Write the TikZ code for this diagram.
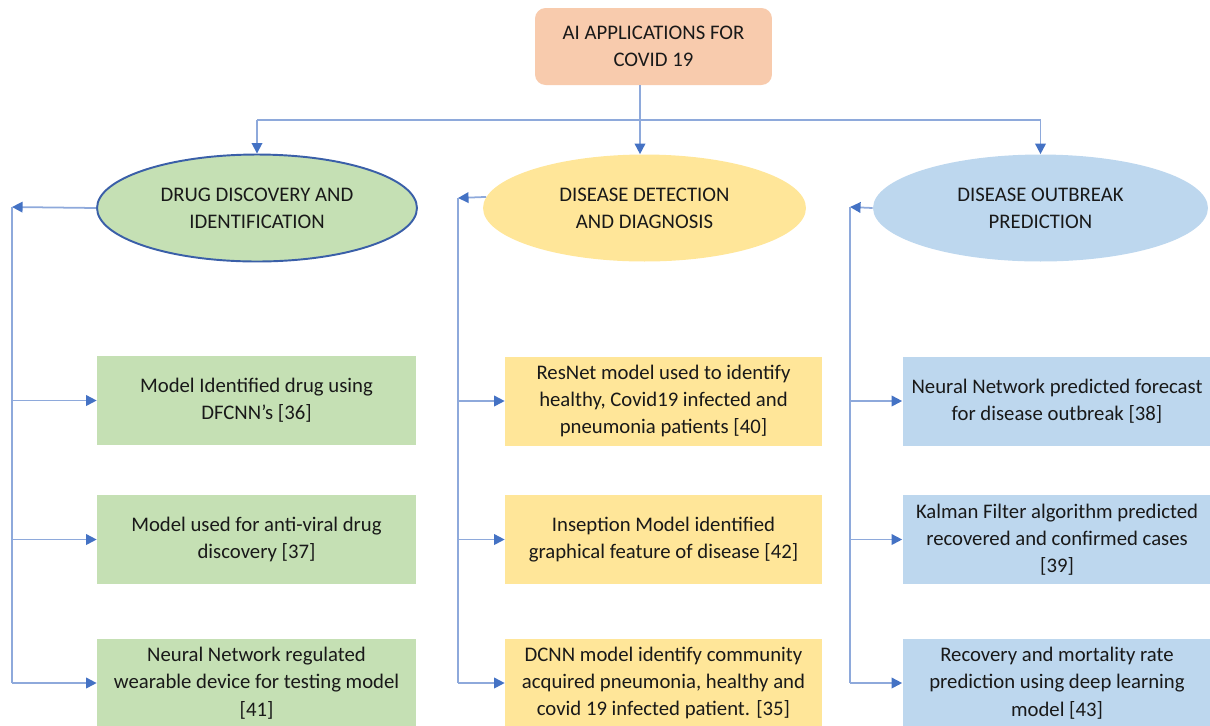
\documentclass[tikz,border=0pt]{standalone}
\usepackage{fontspec}
\setmainfont{Carlito}
\usetikzlibrary{positioning,shapes,arrows.meta,calc}
\definecolor{TopOrange}{HTML}{F8CBAD}
\definecolor{DrugGreen}{HTML}{C5E0B4}
\definecolor{DetectYellow}{HTML}{FFE699}
\definecolor{OutbreakBlue}{HTML}{BDD7EE}
\definecolor{LineBlue}{HTML}{8EA9DB}
\definecolor{TipBlue}{HTML}{4472C4}
\definecolor{EdgeBlue}{HTML}{3A5FA8}
\tikzset{
  txt/.style={font=\fontsize{11.8}{15.5}\selectfont, text=black!90, align=center},
  cat/.style={ellipse, txt, inner sep=0pt, minimum height=2.14cm},
  leaf/.style={rectangle, txt, inner sep=0pt, minimum height=1.78cm},
  rail/.style={draw=LineBlue, line width=1pt},
  link/.style={rail, -{Triangle[color=TipBlue, length=6pt, width=6pt]}},
}

\begin{document}
\begin{tikzpicture}[x=0.02cm, y=-0.02cm]
  \useasboundingbox (0,0) rectangle (1210,725);

  \node[txt, rectangle, rounded corners=6pt, fill=TopOrange, minimum width=4.74cm, minimum height=1.54cm] (c0) at (653.5,46.5) {AI APPLICATIONS FOR\\COVID 19};

  \node[cat, fill=DrugGreen, draw=EdgeBlue, line width=1.1pt, minimum width=6.4cm] (c1) at (257,208) {DRUG DISCOVERY AND\\IDENTIFICATION};
  \node[cat, fill=DetectYellow, minimum width=6.46cm] (c2) at (644.5,208) {DISEASE DETECTION\\AND DIAGNOSIS};
  \node[cat, fill=OutbreakBlue, minimum width=6.7cm] (c3) at (1040.5,208) {DISEASE OUTBREAK\\PREDICTION};

  % top junction
  \coordinate (j2) at (640,120);
  \draw[rail] (c0.south -| j2) -- (j2);
  \draw[rail] (j2 -| c1) -- (j2 -| c3);
  \draw[link] (j2 -| c1) -- (c1.north);
  \draw[link] (j2) -- (j2 |- c2.north);
  \draw[link] (j2 -| c3) -- (c3.north);

  % drug discovery
  \node[leaf, fill=DrugGreen, minimum width=6.38cm] (c11) at (256.5,400.5) {Model Identified drug using\\DFCNN's [36]};
  \node[leaf, fill=DrugGreen, minimum width=6.38cm] (c12) at (256.5,539.5) {Model used for anti-viral drug\\discovery [37]};
  \node[leaf, fill=DrugGreen, minimum width=6.38cm] (c13) at (256.5,683) {Neural Network regulated\\wearable device for testing model\\{}[41]};
  \coordinate (r1) at (12,207);
  \draw[link] (c1.west) -- (r1);
  \draw[rail] (r1) -- (r1 |- c13.west);
  \foreach \k in {1,2,3}
    \draw[link] (r1 |- c1\k.west) -- (c1\k.west);

  % detection
  \node[leaf, fill=DetectYellow, minimum width=6.34cm] (c21) at (663.5,401) {ResNet model used to identify\\healthy, Covid19 infected and\\pneumonia patients [40]};
  \node[leaf, fill=DetectYellow, minimum width=6.34cm] (c22) at (663.5,539.5) {Inseption Model identified\\graphical feature of disease [42]};
  \node[leaf, fill=DetectYellow, minimum width=6.34cm] (c23) at (663.5,683) {DCNN model identify community\\acquired pneumonia, healthy and\\covid 19 infected patient. [35]};
  \coordinate (r2) at (458,198);
  \draw[link] (c2.176) -- (r2);
  \draw[rail] (r2) -- (r2 |- c23.west);
  \foreach \k in {1,2,3}
    \draw[link] (r2 |- c2\k.west) -- (c2\k.west);

  % outbreak
  \node[leaf, fill=OutbreakBlue, minimum width=6.18cm] (c31) at (1057,401) {Neural Network predicted forecast\\for disease outbreak [38]};
  \node[leaf, fill=OutbreakBlue, minimum width=6.18cm] (c32) at (1057,539.5) {Kalman Filter algorithm predicted\\recovered and confirmed cases\\{}[39]};
  \node[leaf, fill=OutbreakBlue, minimum width=6.18cm] (c33) at (1057,683) {Recovery and mortality rate\\prediction using deep learning\\model [43]};
  \coordinate (r3) at (850,207);
  \draw[link] (c3.west) -- (r3);
  \draw[rail] (r3) -- (r3 |- c33.west);
  \foreach \k in {1,2,3}
    \draw[link] (r3 |- c3\k.west) -- (c3\k.west);
\end{tikzpicture}
\end{document}
